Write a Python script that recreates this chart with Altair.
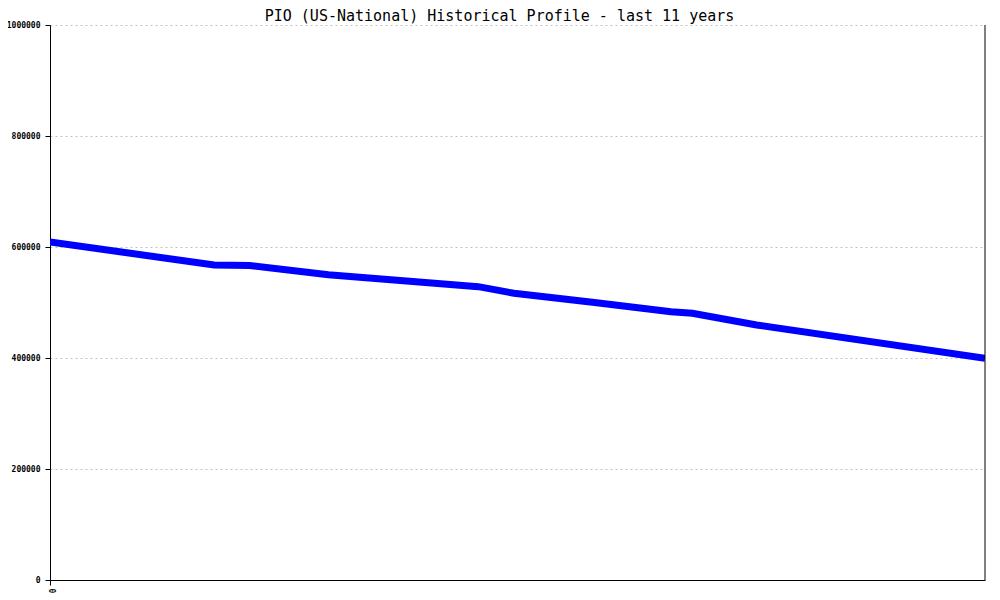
import altair as alt
import pandas as pd

months = [0, 23, 28, 39, 60, 65, 76, 87, 90, 99, 131]
values = [609000, 567600, 566700, 550100, 528500, 516600, 500400, 483400, 480500, 459500, 399500]
y_ticks = [0, 200000, 400000, 600000, 800000, 1000000]
x_ticks = [0]
title_text = "PIO (US-National) Historical Profile - last 11 years"

df = pd.DataFrame({"month": months, "value": values})

x_scale = alt.Scale(domain=[0, 131], nice=False, zero=False)
y_scale = alt.Scale(domain=[0, 1000000], nice=False)

line = alt.Chart(df).mark_line(color="#0000ff", strokeWidth=7, clip=True).encode(
    x=alt.X("month:Q", scale=x_scale,
            axis=alt.Axis(values=x_ticks, title=None, labelAngle=90, grid=False,
                          domainColor="black", tickColor="black", tickSize=5,
                          labelFont="DejaVu Sans Mono", labelFontSize=8, labelColor="black",
                          labelFontWeight="bold", labelAlign="left", labelBaseline="middle",
                          labelPadding=3, format="d")),
    y=alt.Y("value:Q", scale=y_scale,
            axis=alt.Axis(values=y_ticks, title=None, grid=True, gridColor="#c0c0c0",
                          gridDash=[2, 3], gridWidth=1, format="d",
                          domainColor="black", tickColor="black", tickSize=5,
                          labelFont="DejaVu Sans Mono", labelFontSize=8, labelColor="black",
                          labelFontWeight="bold", labelPadding=5, labelFlush=False)),
)

right_border = alt.Chart(pd.DataFrame({"month": [131]})).mark_rule(color="black", strokeWidth=1).encode(
    x=alt.X("month:Q", scale=x_scale),
)

chart = alt.layer(line, right_border).properties(
    width=935,
    height=555,
    padding={"left": 42, "top": 17, "right": 7, "bottom": 20},
    autosize=alt.AutoSizeParams(type="none"),
    title=alt.TitleParams(title_text, font="DejaVu Sans Mono", fontSize=15, fontWeight="normal",
                          color="black", anchor="middle", offset=-3, dx=-18),
).configure_view(stroke=None)

chart.save("out.html", embed_options={"renderer": "svg", "actions": False})
